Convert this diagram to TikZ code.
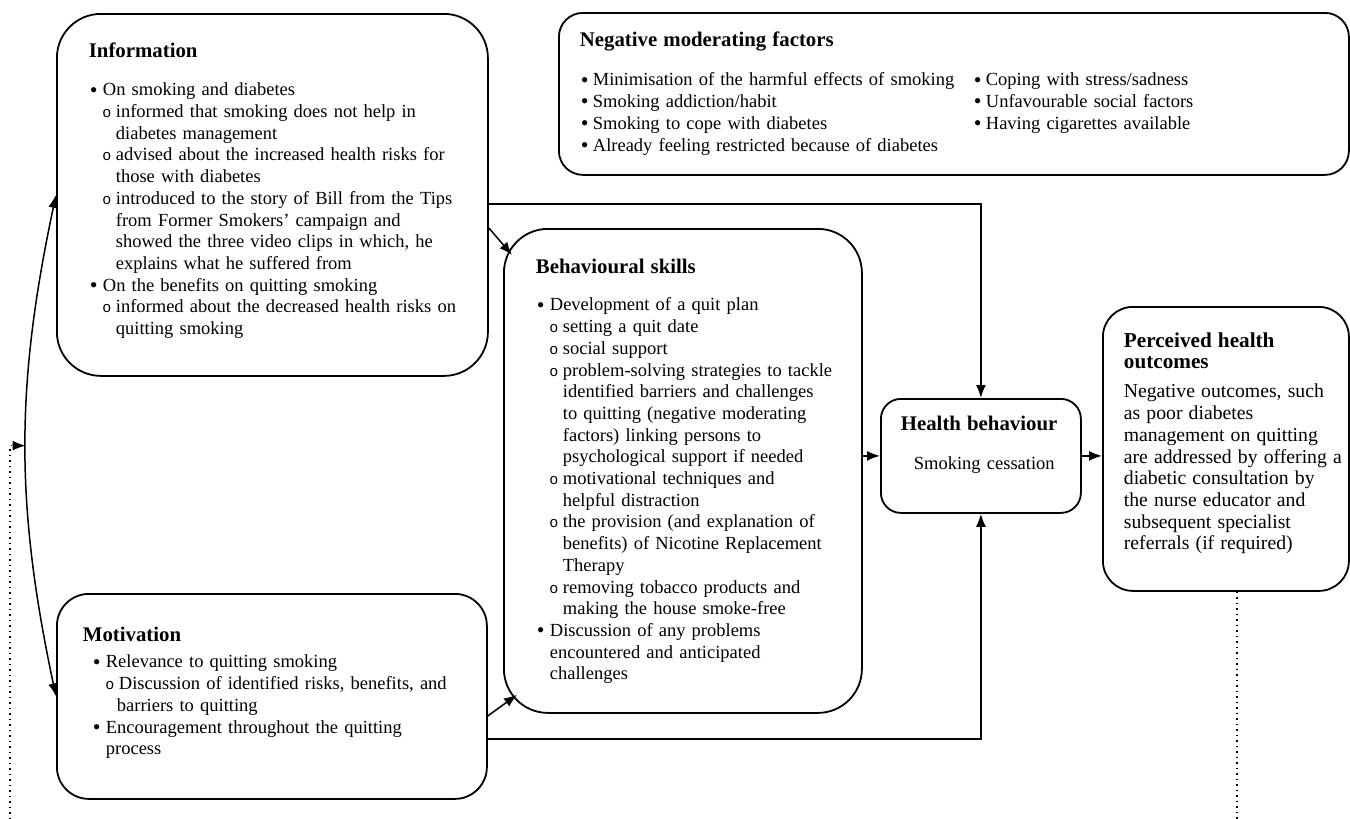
\documentclass[tikz,border=0pt]{standalone}
\usepackage{fontspec}
\setmainfont{Liberation Serif}
\newfontfamily\courfont{Liberation Mono}
\usetikzlibrary{arrows.meta}

\newcommand{\bodysize}{\fontsize{9.25}{10.85}\selectfont}
\newcommand{\boxhead}[2]{{\fontsize{10.4}{10.85}\selectfont\bfseries #1\par}\vspace{#2}}
\newcommand{\bul}{\raisebox{-0.6pt}{\fontsize{11}{10}\selectfont\textbullet}}
\newcommand{\subo}{{\courfont\fontsize{7.5}{8}\selectfont o}}
\newcommand{\bitem}[1]{\par\noindent\hspace*{0.5pt}\makebox[6.5pt][l]{\bul}\mbox{#1}}
\newcommand{\bline}[1]{\par\noindent\hspace*{7pt}\mbox{#1}}
\newcommand{\oitem}[1]{\par\noindent\hspace*{6.75pt}\makebox[6.75pt][l]{\subo}\mbox{#1}}
\newcommand{\oline}[1]{\par\noindent\hspace*{13.5pt}\mbox{#1}}
\newcommand{\nrow}[2]{\par\noindent\hspace*{0.5pt}\makebox[196.5pt][l]{\makebox[6pt][l]{\bul}#1}\makebox[6pt][l]{\bul}#2}
\newcommand{\pline}[1]{\par\noindent\mbox{#1}}

\tikzset{
  box/.style={draw, line width=0.9pt, rounded corners=#1, anchor=north west,
    inner ysep=0pt, align=left, font=\bodysize,
    execute at begin node={\setlength{\parskip}{0pt}}},
  box/.default=22pt,
  arr/.style={line width=0.75pt, -{Latex[length=6.5pt,width=5pt]}},
  twoarr/.style={line width=0.75pt, {Latex[length=6.5pt,width=5pt]}-{Latex[length=6.5pt,width=5pt]}},
  feedback/.style={line width=0.75pt, dotted}
}

\begin{document}
\begin{tikzpicture}[x=0.5pt,y=-0.5pt]
  \useasboundingbox (0,0) rectangle (1350,819);

  \node[box, inner xsep=16pt, text width=183.5pt, text height=22pt, text depth=159pt] (info) at (56,13) {%
    \boxhead{Information}{8.15pt}%
    \bitem{On smoking and diabetes}
    \oitem{informed that smoking does not help in}
    \oline{diabetes management}
    \oitem{advised about the increased health risks for}
    \oline{those with diabetes}
    \oitem{introduced to the story of Bill from the Tips}
    \oline{from Former Smokers’ campaign and}
    \oline{showed the three video clips in which, he}
    \oline{explains what he suffered from}
    \bitem{On the benefits on quitting smoking}
    \oitem{informed about the decreased health risks on}
    \oline{quitting smoking}};

  \node[box=12pt, inner xsep=10.5pt, text width=374pt, text height=17pt, text depth=64pt] (negative) at (558,12) {%
    \boxhead{Negative moderating factors}{8.65pt}%
    \nrow{Minimisation of the harmful effects of smoking}{Coping with stress/sadness}
    \nrow{Smoking addiction/habit}{Unfavourable social factors}
    \nrow{Smoking to cope with diabetes}{Having cigarettes available}
    \par\noindent\hspace*{0.5pt}\makebox[6pt][l]{\bul}Already feeling restricted because of diabetes};

  \node[box, inner xsep=16pt, text width=147pt, text height=22.5pt, text depth=219.5pt] (behav) at (503,228) {%
    \boxhead{Behavioural skills}{7.65pt}%
    \bitem{Development of a quit plan}
    \oitem{setting a quit date}
    \oitem{social support}
    \oitem{problem-solving strategies to tackle}
    \oline{identified barriers and challenges}
    \oline{to quitting (negative moderating}
    \oline{factors) linking persons to}
    \oline{psychological support if needed}
    \oitem{motivational techniques and}
    \oline{helpful distraction}
    \oitem{the provision (and explanation of}
    \oline{benefits) of Nicotine Replacement}
    \oline{Therapy}
    \oitem{removing tobacco products and}
    \oline{making the house smoke-free}
    \bitem{Discussion of any problems}
    \bline{encountered and anticipated}
    \bline{challenges}};

  \node[box=10pt, inner xsep=10pt, text width=80pt, text height=16pt, text depth=41pt] (health) at (880,398) {%
    \boxhead{Health behaviour}{8.65pt}%
    \par\noindent\hspace*{6.5pt}Smoking cessation};

  \node[box=15pt, inner xsep=10.5pt, text width=102pt, text height=20.5pt, text depth=121.5pt] (perceived) at (1102,306) {%
    {\fontsize{10.6}{10.5}\selectfont\bfseries Perceived health\par outcomes\par}\vspace{3.65pt}%
    \fontsize{9.85}{10.85}\selectfont
    \pline{Negative outcomes, such}
    \pline{as poor diabetes}
    \pline{management on quitting}
    \pline{are addressed by offering a}
    \pline{diabetic consultation by}
    \pline{the nurse educator and}
    \pline{subsequent specialist}
    \pline{referrals (if required)}};

  \node[box=16pt, inner xsep=13pt, text width=189pt, text height=24pt, text depth=78.5pt] (motiv) at (56,593) {%
    \boxhead{Motivation}{2.15pt}%
    \leftskip=4.5pt
    \bitem{Relevance to quitting smoking}
    \oitem{Discussion of identified risks, benefits, and}
    \par\noindent\hspace*{12.5pt}barriers to quitting
    \bitem{Encouragement throughout the quitting}
    \bline{process}\par};

  \draw[arr] ([yshift=-4.5pt]info.east) -| (health.north);
  \draw[arr] ([yshift=-16.5pt]info.east) -- ([shift={(4.5pt,-13.5pt)}]behav.north west);
  \draw[arr] ([yshift=-9.75pt]motiv.east) -- ([shift={(7pt,9.5pt)}]behav.south west);
  \draw[arr] ([yshift=-21.25pt]motiv.east) -| (health.south);
  \draw[arr] (behav.east |- health.west) -- (health.west);
  \draw[arr] (health.east) -- (perceived.west |- health.east);

  \draw[twoarr] (info.west) to[bend right=12] coordinate[pos=0.5] (loopmid) (motiv.west);
  \coordinate (fbleft) at (10,819);
  \draw[feedback] ([xshift=5.5pt]perceived.south) -- ([xshift=5.5pt]perceived.south |- fbleft);
  \draw[feedback, arr] (fbleft) |- (loopmid);
\end{tikzpicture}
\end{document}
